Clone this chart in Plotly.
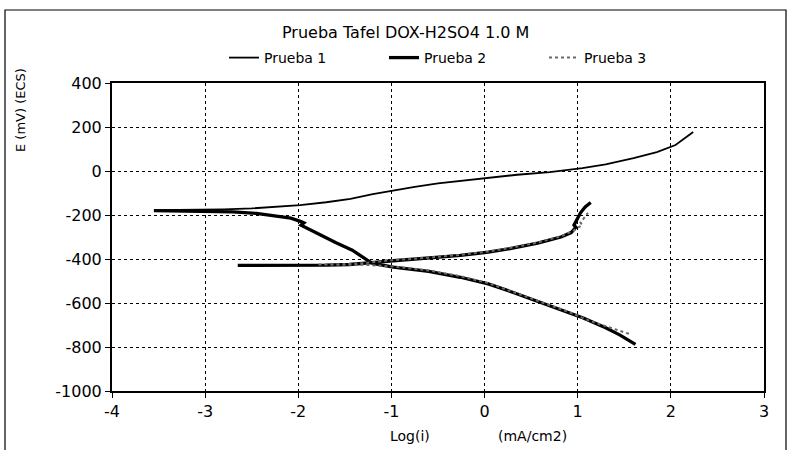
import plotly.graph_objects as go

# Tafel polarisation curves, DOX in H2SO4 1.0 M
# x: log of current density (mA/cm2), y: potential E in mV vs ECS

# Prueba 1: anodic branch from the corrosion potential near -180 mV
p1_log_i = [-3.55, -3.2, -2.8, -2.5, -2.27, -1.98, -1.7, -1.44, -1.2, -0.98, -0.75,
            -0.5, -0.25, 0.04, 0.35, 0.7, 1.05, 1.3, 1.6, 1.85, 2.05, 2.24]
p1_e = [-178, -177, -174, -170, -164, -155, -142, -127, -105, -88, -72,
        -56, -44, -29, -17, -5, 13, 30, 58, 86, 118, 177]

# Prueba 2: descending cathodic branch, then (separate segment) the
# low-current plateau near -428 mV and its anodic branch
p2_log_i = [-3.55, -3.2, -2.9, -2.7, -2.45, -2.25, -2.08, -1.97, -1.94, -1.97, -1.9,
            -1.76, -1.6, -1.42, -1.26, -1.2, -0.98, -0.6, -0.26, 0.04, 0.3, 0.6,
            0.85, 1.06, 1.3, 1.45, 1.62,
            None,
            -2.65, -2.3, -2.0, -1.7, -1.45, -1.3, -1.15, -0.98, -0.6, -0.26, 0.04,
            0.3, 0.57, 0.82, 0.93, 0.98, 0.96, 0.99, 1.03, 1.08, 1.14]
p2_e = [-180, -181, -183, -186, -193, -203, -214, -230, -236, -246, -262,
        -291, -325, -360, -405, -420, -437, -456, -483, -513, -551, -597,
        -632, -668, -713, -745, -788,
        None,
        -429, -430, -430, -428, -425, -421, -414, -408, -397, -384, -369,
        -351, -328, -300, -280, -256, -246, -220, -190, -163, -143]

# Prueba 3: cathodic branch -> corrosion potential -> anodic branch
p3_log_i = [1.55, 1.35, 1.14, 0.9, 0.6, 0.3, 0.04, -0.26, -0.6, -0.98, -1.3,
            -1.55, -1.8, -1.55, -1.3, -1.0, -0.6, -0.26, 0.04, 0.3, 0.57, 0.82,
            0.95, 1.02, 1.05, 1.03, 1.07, 1.11]
p3_e = [-740, -712, -683, -640, -594, -548, -510, -478, -452, -434, -426,
        -426, -425, -424, -419, -406, -394, -381, -366, -348, -325, -297,
        -272, -255, -245, -235, -210, -190]

x_ticks = [-4, -3, -2, -1, 0, 1, 2, 3]
y_ticks = [400, 200, 0, -200, -400, -600, -800, -1000]

FONT = "DejaVu Sans"
W, H = 790, 450
ML, MR, MT, MB = 112, 26, 83, 59
PW, PH = W - ML - MR, H - MT - MB


def px_to_paper_x(px):
    return (px - ML) / PW


def px_to_paper_y(py):
    return (H - MB - py) / PH


fig = go.Figure()
fig.add_trace(go.Scatter(x=p1_log_i, y=p1_e, mode="lines", name="Prueba 1",
                         line=dict(color="black", width=1.8)))
fig.add_trace(go.Scatter(x=p2_log_i, y=p2_e, mode="lines", name="Prueba 2",
                         line=dict(color="black", width=3.3), connectgaps=False))
fig.add_trace(go.Scatter(x=p3_log_i, y=p3_e, mode="lines", name="Prueba 3",
                         line=dict(color="#6a6a6a", width=2, dash="dot")))

axis_common = dict(
    showline=True, linecolor="black", linewidth=2, mirror=True,
    showgrid=True, gridcolor="black", gridwidth=1.4, griddash="dot",
    zeroline=False, ticks="outside", ticklen=5, tickcolor="black", tickwidth=1,
    tickfont=dict(family=FONT, size=16, color="black"),
)

fig.update_xaxes(range=[-4, 3], tickvals=x_ticks, ticktext=[str(v) for v in x_ticks],
                 **axis_common)
fig.update_yaxes(range=[-1000, 400], tickvals=y_ticks, ticktext=[str(v) for v in y_ticks],
                 **axis_common)

fig.update_layout(
    width=W, height=H,
    margin=dict(l=ML, r=MR, t=MT, b=MB),
    paper_bgcolor="white", plot_bgcolor="white",
    showlegend=True,
    legend=dict(orientation="h", x=px_to_paper_x(224), xanchor="left",
                y=px_to_paper_y(58), yanchor="middle",
                font=dict(family=FONT, size=14, color="black"),
                entrywidth=115, entrywidthmode="pixels",
                bgcolor="rgba(0,0,0,0)", tracegroupgap=0),
    font=dict(family=FONT, color="black"),
)

ann_font = dict(family=FONT, size=14, color="black")
# chart title
fig.add_annotation(text="Prueba Tafel DOX-H2SO4 1.0 M", xref="paper", yref="paper",
                   x=px_to_paper_x(405), y=px_to_paper_y(32), showarrow=False,
                   xanchor="center", yanchor="middle",
                   font=dict(family=FONT, size=16, color="black"))
# axis titles
fig.add_annotation(text="E (mV) (ECS)", xref="paper", yref="paper",
                   x=px_to_paper_x(20), y=px_to_paper_y(110), textangle=-90,
                   xanchor="center", yanchor="middle",
                   showarrow=False, font=dict(family=FONT, size=13, color="black"))
fig.add_annotation(text="Log(i)", xref="paper", yref="paper",
                   x=px_to_paper_x(410), y=px_to_paper_y(436), showarrow=False,
                   xanchor="center", yanchor="middle", font=ann_font)
fig.add_annotation(text="(mA/cm2)", xref="paper", yref="paper",
                   x=px_to_paper_x(532), y=px_to_paper_y(436), showarrow=False,
                   xanchor="center", yanchor="middle", font=ann_font)

# outer chart frame
fig.add_shape(type="rect", xref="paper", yref="paper",
              x0=px_to_paper_x(5), x1=px_to_paper_x(786),
              y0=px_to_paper_y(453), y1=px_to_paper_y(10),
              line=dict(color="black", width=1.2), fillcolor="rgba(0,0,0,0)",
              layer="below")

fig.write_html("out.html")
